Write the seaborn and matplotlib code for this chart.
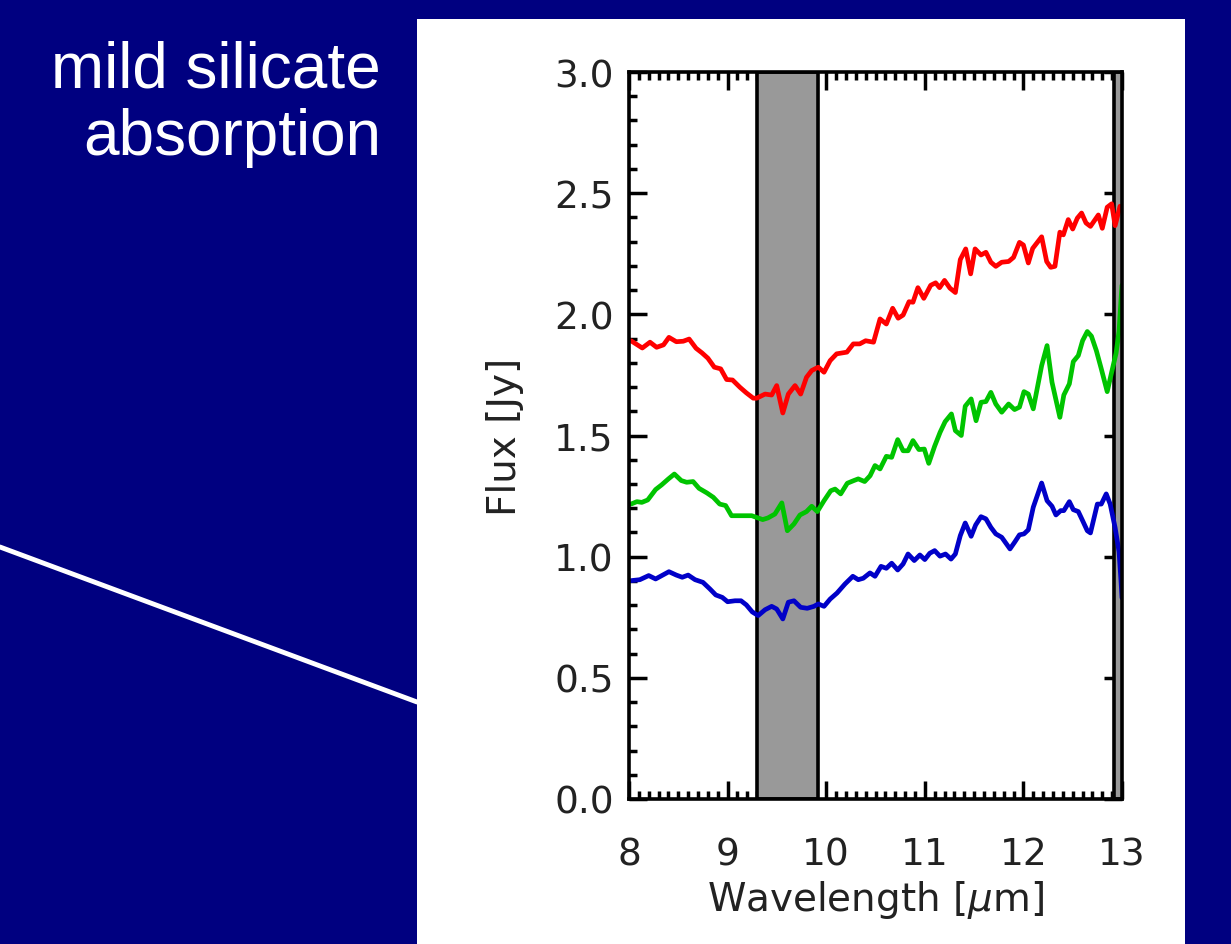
import matplotlib
matplotlib.use("Agg")
import matplotlib.pyplot as plt
from matplotlib.patches import Rectangle
from matplotlib.lines import Line2D
from matplotlib.ticker import MultipleLocator
import seaborn as sns
import pandas as pd

# spectra (wavelength in micron, flux in Jy)
red_wl = [8.02, 8.135, 8.213, 8.28, 8.35, 8.405, 8.48, 8.55, 8.61, 8.68, 8.74, 8.80, 8.865, 8.93,
          8.99, 9.05, 9.125, 9.19, 9.26, 9.295, 9.38, 9.447, 9.498, 9.56, 9.616, 9.684, 9.741,
          9.80, 9.853, 9.92, 9.978, 10.04, 10.106, 10.21, 10.275, 10.34, 10.40, 10.48, 10.546,
          10.61, 10.674, 10.73, 10.78, 10.84, 10.88, 10.93, 10.99, 11.06, 11.11, 11.15, 11.20,
          11.255, 11.31, 11.36, 11.415, 11.465, 11.51, 11.57, 11.62, 11.67, 11.72, 11.78, 11.85,
          11.90, 11.96, 12.0, 12.05, 12.094, 12.185, 12.236, 12.277, 12.32, 12.37, 12.405,
          12.455, 12.50, 12.547, 12.59, 12.635, 12.68, 12.76, 12.80, 12.85, 12.895, 12.93,
          12.98, 13.0]
red_flux = [1.891, 1.861, 1.885, 1.864, 1.874, 1.905, 1.887, 1.889, 1.898, 1.860, 1.841, 1.819,
            1.782, 1.775, 1.731, 1.729, 1.699, 1.676, 1.654, 1.654, 1.671, 1.667, 1.706, 1.593,
            1.671, 1.706, 1.671, 1.740, 1.768, 1.782, 1.761, 1.809, 1.837, 1.844, 1.878, 1.878,
            1.891, 1.885, 1.981, 1.96, 2.025, 1.984, 1.997, 2.052, 2.05, 2.11, 2.066, 2.12, 2.13,
            2.11, 2.14, 2.108, 2.09, 2.226, 2.27, 2.167, 2.27, 2.245, 2.256, 2.215, 2.198, 2.215,
            2.218, 2.235, 2.297, 2.286, 2.212, 2.272, 2.32, 2.218, 2.194, 2.198, 2.339, 2.328,
            2.391, 2.352, 2.397, 2.418, 2.377, 2.363, 2.41, 2.355, 2.442, 2.456, 2.366, 2.446,
            2.432]

green_wl = [8.02, 8.08, 8.13, 8.19, 8.27, 8.33, 8.40, 8.46, 8.53, 8.585, 8.65, 8.71, 8.79, 8.855,
            8.92, 8.98, 9.04, 9.125, 9.19, 9.245, 9.356, 9.41, 9.48, 9.55, 9.606, 9.673, 9.734,
            9.80, 9.853, 9.91, 9.978, 10.046, 10.09, 10.147, 10.214, 10.28, 10.325, 10.39,
            10.445, 10.495, 10.546, 10.61, 10.664, 10.725, 10.78, 10.83, 10.88, 10.94, 10.995,
            11.04, 11.10, 11.155, 11.206, 11.27, 11.31, 11.37, 11.41, 11.47, 11.52, 11.57, 11.62,
            11.67, 11.72, 11.78, 11.85, 11.91, 11.96, 12.006, 12.05, 12.10, 12.185, 12.24, 12.29,
            12.37, 12.41, 12.466, 12.506, 12.557, 12.60, 12.648, 12.69, 12.74, 12.79, 12.85,
            12.895, 12.94, 12.97, 12.99, 13.0]
green_flux = [1.217, 1.227, 1.224, 1.234, 1.277, 1.296, 1.321, 1.341, 1.314, 1.307, 1.310, 1.282,
              1.263, 1.245, 1.217, 1.211, 1.169, 1.169, 1.169, 1.169, 1.153, 1.16, 1.176, 1.222,
              1.107, 1.135, 1.172, 1.186, 1.208, 1.186, 1.231, 1.272, 1.279, 1.259, 1.303, 1.314,
              1.321, 1.310, 1.334, 1.376, 1.362, 1.414, 1.410, 1.483, 1.437, 1.437, 1.479, 1.442,
              1.444, 1.385, 1.456, 1.513, 1.557, 1.589, 1.52, 1.50, 1.621, 1.651, 1.561, 1.637,
              1.64, 1.678, 1.63, 1.596, 1.63, 1.607, 1.617, 1.681, 1.671, 1.61, 1.788, 1.871, 1.72,
              1.575, 1.667, 1.713, 1.805, 1.830, 1.891, 1.929, 1.91, 1.85, 1.775, 1.681, 1.761,
              1.84, 1.93, 2.06, 2.12]

blue_wl = [8.02, 8.11, 8.20, 8.27, 8.405, 8.48, 8.54, 8.60, 8.67, 8.75, 8.82, 8.88, 8.946, 9.0,
           9.075, 9.136, 9.19, 9.25, 9.31, 9.38, 9.447, 9.498, 9.56, 9.616, 9.673, 9.741, 9.808,
           9.876, 9.92, 9.978, 10.04, 10.11, 10.19, 10.27, 10.325, 10.376, 10.444, 10.495,
           10.556, 10.61, 10.664, 10.725, 10.78, 10.83, 10.893, 10.95, 11.0, 11.05, 11.10, 11.154,
           11.21, 11.266, 11.31, 11.36, 11.41, 11.47, 11.516, 11.57, 11.62, 11.67, 11.72, 11.78,
           11.864, 11.915, 11.96, 12.006, 12.05, 12.10, 12.185, 12.24, 12.29, 12.33, 12.378,
           12.41, 12.466, 12.506, 12.557, 12.60, 12.648, 12.68, 12.75, 12.79, 12.84, 12.88,
           12.93, 12.97, 12.99, 13.0]
blue_flux = [0.901, 0.905, 0.922, 0.908, 0.938, 0.924, 0.915, 0.924, 0.905, 0.894, 0.867, 0.842,
             0.832, 0.814, 0.818, 0.818, 0.801, 0.772, 0.757, 0.781, 0.795, 0.784, 0.743, 0.812,
             0.818, 0.791, 0.787, 0.795, 0.805, 0.795, 0.825, 0.850, 0.887, 0.919, 0.905, 0.911,
             0.933, 0.919, 0.960, 0.952, 0.973, 0.945, 0.970, 1.011, 0.984, 1.007, 0.988, 1.014,
             1.025, 1.002, 1.011, 0.990, 1.011, 1.087, 1.139, 1.084, 1.131, 1.165, 1.156, 1.121,
             1.094, 1.080, 1.032, 1.062, 1.09, 1.094, 1.111, 1.204, 1.304, 1.231, 1.208, 1.172,
             1.190, 1.190, 1.227, 1.194, 1.186, 1.149, 1.107, 1.098, 1.217, 1.217, 1.259, 1.217,
             1.12, 1.02, 0.90, 0.83]

band_lo = [9.3, 12.92]
band_hi = [9.92, 13.2]

navy = "#000080"

sns.set_style("ticks")
plt.rcParams["font.family"] = ["DejaVu Sans"]

fig = plt.figure(figsize=(12.31, 9.45), dpi=100)
fig.patch.set_facecolor(navy)

# white slide panel + decorative line (kept behind the axes)
fig.add_artist(Line2D([0, 417 / 1231], [1 - 548 / 945, 1 - 703 / 945],
                      transform=fig.transFigure, color="white", lw=3.5, zorder=-2))
fig.add_artist(Rectangle((417 / 1231, 0), 768 / 1231, 925 / 945,
                         transform=fig.transFigure, facecolor="white", edgecolor="none",
                         zorder=-1))
fig.text(381 / 1231, 1 - 40 / 945, "mild silicate\nabsorption", color="white",
         family=["Liberation Sans", "DejaVu Sans"], fontsize=46, ha="right", va="top",
         linespacing=1.18)

ax = fig.add_axes([629 / 1231, 145 / 945, 493 / 1231, 727 / 945])
ax.set_facecolor("white")

for lo, hi in zip(band_lo, band_hi):
    ax.axvspan(lo, hi, facecolor="#999999", edgecolor="black", linewidth=2.6, zorder=1)

series = [(red_wl, red_flux, "#ff0000"),
          (green_wl, green_flux, "#00c400"),
          (blue_wl, blue_flux, "#0000c8")]
for wl, fl, col in series:
    df = pd.DataFrame({"wl": wl, "flux": fl})
    sns.lineplot(data=df, x="wl", y="flux", color=col, linewidth=3.4, ax=ax,
                 sort=False, estimator=None, zorder=3)

ax.set_xlim(8, 13)
ax.set_ylim(0, 3)
ax.xaxis.set_major_locator(MultipleLocator(1))
ax.xaxis.set_minor_locator(MultipleLocator(0.1))
ax.yaxis.set_major_locator(MultipleLocator(0.5))
ax.yaxis.set_minor_locator(MultipleLocator(0.1))
ax.yaxis.set_major_formatter(matplotlib.ticker.FormatStrFormatter("%.1f"))
ax.tick_params(which="both", direction="in", top=True, right=True, color="black",
               labelcolor="#222222", labelsize=27, width=2.5)
ax.tick_params(which="major", length=13)
ax.tick_params(which="minor", length=6)
ax.tick_params(axis="x", which="major", pad=27)
ax.tick_params(axis="y", which="major", pad=11)
for sp in ax.spines.values():
    sp.set_visible(True)
    sp.set_linewidth(2.6)
    sp.set_color("black")
    sp.set_zorder(5)

ax.set_xlabel("Wavelength [$\\mu$m]", fontsize=28, color="#222222", labelpad=4)
ax.set_ylabel("Flux [Jy]", fontsize=28, color="#222222", labelpad=22)

fig.savefig("out.png", dpi=100, facecolor=navy)
